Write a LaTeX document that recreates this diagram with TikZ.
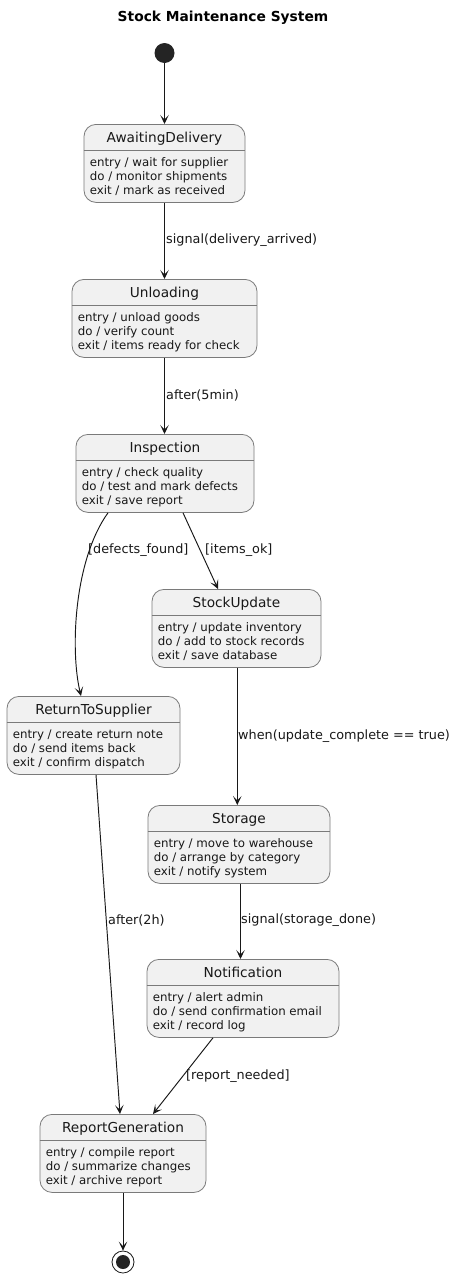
\documentclass[tikz,border=0pt]{standalone}
\usepackage{fontspec}
\setmainfont{DejaVu Sans}
\usetikzlibrary{arrows.meta}
\definecolor{stfill}{HTML}{F1F1F1}
\definecolor{stedge}{HTML}{7A7A7A}
\definecolor{ink}{HTML}{181818}
\tikzset{
  stbox/.style={draw=stedge, fill=stfill, line width=0.8pt, rounded corners=12pt, minimum height=78pt, inner sep=0pt},
  stline/.style={draw=stedge, line width=0.8pt},
  sttitle/.style={anchor=base, inner sep=0pt, text=ink, font=\fontsize{13.7}{16}\selectfont},
  stbody/.style={anchor=base west, inner sep=0pt, align=left, text=ink, font=\fontsize{11.8}{13.9}\selectfont},
  trans/.style={draw=ink, line width=0.95pt, -{Stealth[length=9pt,width=8.5pt,inset=4.5pt]}},
  tlabel/.style={anchor=west, inner sep=0pt, text=ink, font=\fontsize{12.8}{15}\selectfont},
}
\newcommand\mkstate[6]{%
  \node[stbox, minimum width=#4, anchor=north] (#1) at (#2,#3) {};
  \draw[stline] ([yshift=-26pt]#1.north west) -- ([yshift=-26pt]#1.north east);
  \node[sttitle] (#1-t) at ([yshift=-18.5pt]#1.north) {#5};
  \node[stbody] (#1-b) at ([xshift=6pt,yshift=-70.3pt]#1.north west) {#6};
}
\begin{document}
\begin{tikzpicture}[x=1pt,y=-1pt]
\useasboundingbox[fill=white] (0,0) rectangle (460,1280);
\node[inner sep=0pt, text=black, font=\bfseries\fontsize{13.8}{16}\selectfont] (title) at (223,18) {Stock Maintenance System};

\node[circle, fill=ink!95, minimum size=20pt, inner sep=0pt] (init) at (164.5,53) {};

\mkstate{ad}{164.5}{124}{161pt}{AwaitingDelivery}{entry / wait for supplier\\do / monitor shipments\\exit / mark as received}
\mkstate{un}{164.5}{279}{185pt}{Unloading}{entry / unload goods\\do / verify count\\exit / items ready for check}
\mkstate{in}{165}{434}{178pt}{Inspection}{entry / check quality\\do / test and mark defects\\exit / save report}
\mkstate{su}{236.5}{589}{169pt}{StockUpdate}{entry / update inventory\\do / add to stock records\\exit / save database}
\mkstate{rs}{93.5}{696}{173pt}{ReturnToSupplier}{entry / create return note\\do / send items back\\exit / confirm dispatch}
\mkstate{st}{239}{805}{182pt}{Storage}{entry / move to warehouse\\do / arrange by category\\exit / notify system}
\mkstate{no}{243}{959}{192pt}{Notification}{entry / alert admin\\do / send confirmation email\\exit / record log}
\mkstate{rg}{123}{1114}{166pt}{ReportGeneration}{entry / compile report\\do / summarize changes\\exit / archive report}

\node[circle, draw=ink, line width=0.8pt, fill=white, minimum size=22pt, inner sep=0pt] (fin) at (123,1262) {};
\node[circle, fill=ink!95, minimum size=14pt, inner sep=0pt] (finin) at (fin.center) {};

\draw[trans] (init) -- (ad.north);
\draw[trans] (ad.south) -- (un.north);
\draw[trans] (un.south) -- ([xshift=-0.5pt]in.north);
\draw[trans] ([xshift=18pt]in.south) -- ([xshift=-18.5pt]su.north);
\draw[trans] ([xshift=-57pt]in.south) .. controls (74,560) and (70,650) .. ([xshift=-12.5pt]rs.north);
\draw[trans] ([xshift=0.8pt]su.south) -- ([xshift=-1.7pt]st.north);
\draw[trans] ([xshift=2.5pt]rs.south) -- ([xshift=-3pt]rg.north);
\draw[trans] ([xshift=1.5pt]st.south) -- ([xshift=-2.5pt]no.north);
\draw[trans] ([xshift=-30pt]no.south) -- ([xshift=30pt]rg.north);
\draw[trans] (rg.south) -- (fin.north);

\node[tlabel] (l1) at (166,240.5) {signal(delivery\_arrived)};
\node[tlabel] (l2) at (166,395) {after(5min)};
\node[tlabel] (l3) at (88,550) {[defects\_found]};
\node[tlabel] (l4) at (205,550) {[items\_ok]};
\node[tlabel] (l5) at (238,736) {when(update\_complete == true)};
\node[tlabel] (l6) at (108,920) {after(2h)};
\node[tlabel] (l7) at (241,920) {signal(storage\_done)};
\node[tlabel] (l8) at (186,1076) {[report\_needed]};
\end{tikzpicture}
\end{document}
